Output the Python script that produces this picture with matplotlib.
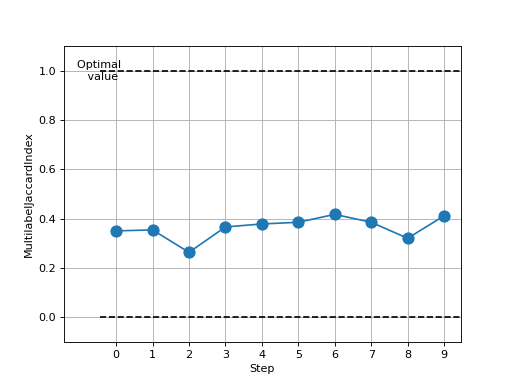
import matplotlib
matplotlib.use("Agg")
import matplotlib.pyplot as plt

steps = [0, 1, 2, 3, 4, 5, 6, 7, 8, 9]
values = [0.350, 0.354, 0.263, 0.366, 0.378, 0.385, 0.417, 0.385, 0.320, 0.411]
optimal_value = 1.0
bound_value = 0.0

fig, ax = plt.subplots(figsize=(6.4, 4.8), dpi=80)
ax.plot(steps, values, marker="o", markersize=10, linestyle="-")
xlim = (-0.45, 9.46)
ax.hlines([optimal_value, bound_value], xlim[0], xlim[1], linestyles="dashed", colors="k")
ax.text(xlim[0] + 0.03, optimal_value, "Optimal \n value", horizontalalignment="center", verticalalignment="center")
ax.set_xlim(-1.43, 9.46)
ax.set_ylim(-0.1, 1.1)
ax.set_xticks(steps)
ax.set_xlabel("Step")
ax.set_ylabel("MultilabelJaccardIndex")
ax.grid(True)
fig.savefig("out.png", dpi=80)
